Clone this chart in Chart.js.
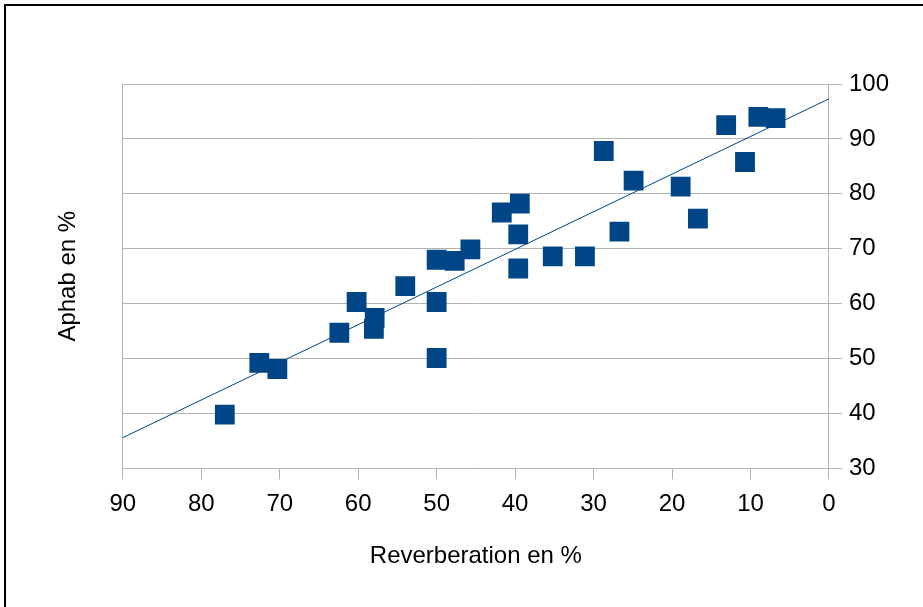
<!DOCTYPE html>
<html>
<head>
<meta charset="utf-8">
<script src="https://cdn.jsdelivr.net/npm/chart.js@4/dist/chart.umd.min.js"></script>
<style>
  html, body { margin: 0; padding: 0; background: #fff; overflow: hidden; }
  #wrap { position: relative; width: 923px; height: 607px; overflow: hidden; }
  #frame { position: absolute; left: 4px; top: 4px; width: 1000px; height: 1000px; border: 2px solid #000; pointer-events: none; }
  canvas { position: absolute; left: 0; top: 0; }
</style>
</head>
<body>
<div id="wrap">
  <canvas id="chart" width="923" height="607"></canvas>
  <div id="frame"></div>
</div>
<script>
// values
const reverbX = [77.0, 72.6, 70.3, 62.4, 60.2, 57.9, 58.0, 54.0, 50.0, 50.0, 50.0, 47.7, 45.7,
                 41.7, 39.4, 39.6, 39.6, 35.2, 31.1, 28.7, 26.7, 24.9, 18.9, 16.7, 13.1, 10.7, 9.0, 6.8];
const aphabY  = [39.8, 49.2, 48.1, 54.7, 60.3, 57.4, 55.4, 63.2, 60.3, 50.1, 68.0, 67.8, 69.9,
                 76.6, 78.2, 72.6, 66.4, 68.6, 68.6, 87.8, 73.1, 82.4, 81.3, 75.5, 92.5, 85.8, 94.0, 93.8];
// linear trend line end points
const trendX = [90, 0];
const trendY = [35.6, 97.3];

const xTicks = [90, 80, 70, 60, 50, 40, 30, 20, 10, 0];
const yTicks = [30, 40, 50, 60, 70, 80, 90, 100];

const font = 'Liberation Sans, Arial, sans-serif';
const gridColor = '#b3b3b3';

const points = reverbX.map((x, i) => ({ x: x, y: aphabY[i] }));
const trend = trendX.map((x, i) => ({ x: x, y: trendY[i] }));

new Chart(document.getElementById('chart'), {
  type: 'scatter',
  data: {
    datasets: [{
      label: 'Trend',
      data: trend,
      showLine: true,
      borderColor: '#004586',
      borderWidth: 1,
      pointRadius: 0,
      order: 0
    }, {
      label: 'Aphab',
      data: points,
      pointStyle: 'rect',
      pointRadius: 14,
      pointHoverRadius: 14,
      backgroundColor: '#004586',
      borderColor: '#004586',
      borderWidth: 0,
      order: 1
    }]
  },
  options: {
    responsive: false,
    animation: false,
    devicePixelRatio: 1,
    layout: { padding: { left: 50, right: 27, top: 84, bottom: 32 } },
    plugins: { legend: { display: false }, tooltip: { enabled: false } },
    scales: {
      x: {
        type: 'linear',
        reverse: true,
        min: 0, max: 90,
        afterBuildTicks: s => { s.ticks = xTicks.map(v => ({ value: v })); },
        ticks: { color: '#000', font: { family: font, size: 24 }, padding: 11, maxRotation: 0 },
        grid: { drawOnChartArea: false, drawTicks: true, tickLength: 11, color: gridColor },
        border: { display: true, color: gridColor },
        title: { display: true, text: 'Reverberation en %', color: '#000',
                 font: { family: font, size: 24 }, padding: { top: 12, bottom: 4 } }
      },
      y: {
        type: 'linear',
        position: 'right',
        min: 30, max: 100,
        afterBuildTicks: s => { s.ticks = yTicks.map(v => ({ value: v })); },
        ticks: { color: '#000', font: { family: font, size: 24 }, padding: 7 },
        grid: { color: gridColor, tickLength: 13 },
        border: { display: true, color: gridColor }
      },
      yl: {
        type: 'linear',
        position: 'left',
        min: 30, max: 100,
        ticks: { display: false },
        grid: { display: false, drawTicks: false },
        border: { display: true, color: gridColor },
        title: { display: true, text: 'Aphab en %', color: '#000',
                 font: { family: font, size: 24 }, padding: { top: 4, bottom: 40 } }
      }
    }
  }
});
</script>
</body>
</html>
